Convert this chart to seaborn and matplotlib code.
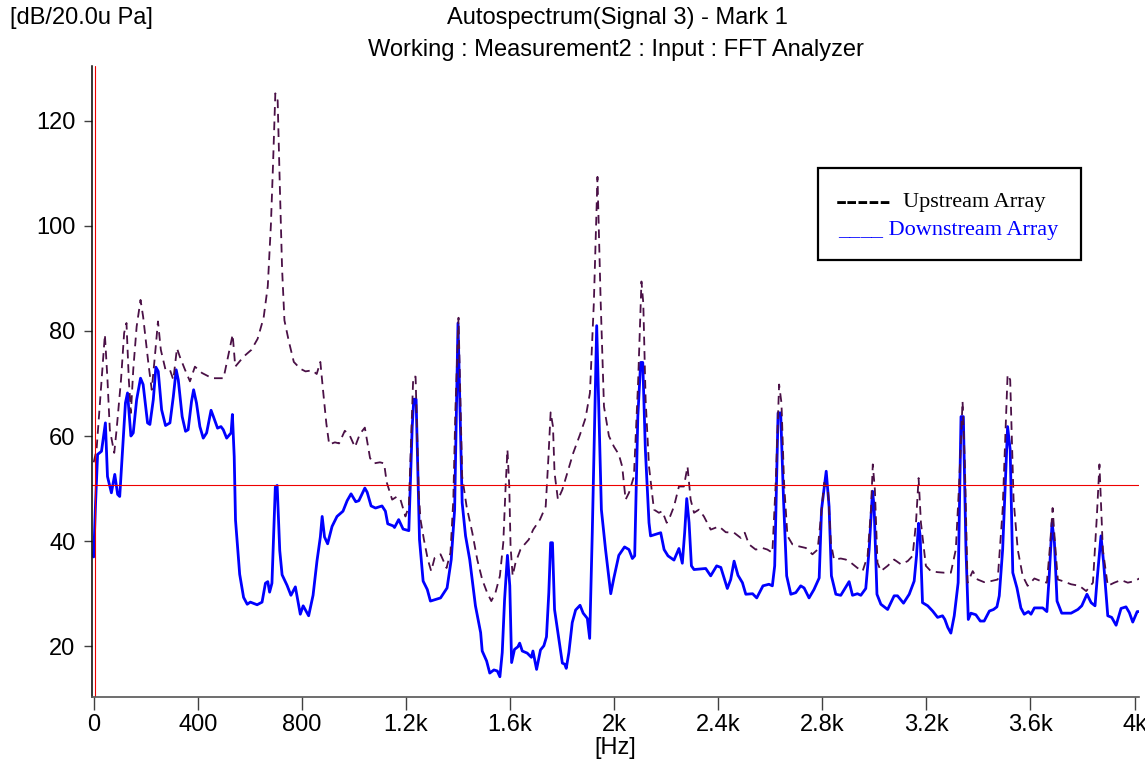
import pandas as pd
import matplotlib.pyplot as plt
import matplotlib.patches as patches
import seaborn as sns

# 频谱数据
freq_down = [0, 7, 15, 30, 45, 53, 68, 81, 92, 100, 122, 130, 143, 152, 165, 180, 190, 207, 216, 229,
             239, 248, 261, 276, 293, 306, 317, 325, 340, 353, 363, 376, 384, 395, 408, 421, 434, 451, 460, 476,
             489, 498, 511, 528, 533, 540, 545, 561, 576, 590, 602, 628, 647, 660, 669, 676, 685, 698, 705, 715,
             724, 743, 758, 775, 794, 805, 826, 843, 858, 871, 878, 887, 899, 916, 935, 958, 974, 989, 1007, 1019,
             1042, 1051, 1066, 1083, 1108, 1121, 1130, 1151, 1156, 1172, 1189, 1211, 1224, 1230, 1239, 1252, 1266, 1282, 1294, 1333,
             1358, 1374, 1387, 1400, 1416, 1429, 1445, 1467, 1487, 1493, 1510, 1522, 1538, 1551, 1561, 1570, 1579, 1590, 1599, 1606,
             1617, 1630, 1637, 1647, 1666, 1682, 1688, 1702, 1717, 1730, 1740, 1749, 1756, 1763, 1771, 1788, 1801, 1810, 1816, 1826,
             1839, 1852, 1869, 1881, 1897, 1906, 1916, 1933, 1951, 1967, 1987, 1999, 2018, 2040, 2057, 2070, 2079, 2091, 2102, 2110,
             2120, 2134, 2140, 2160, 2179, 2192, 2207, 2230, 2249, 2262, 2271, 2279, 2288, 2297, 2307, 2352, 2371, 2394, 2410, 2435,
             2448, 2461, 2476, 2493, 2506, 2532, 2548, 2572, 2595, 2608, 2617, 2630, 2640, 2651, 2663, 2679, 2698, 2717, 2730, 2749,
             2768, 2788, 2797, 2815, 2826, 2835, 2852, 2871, 2887, 2903, 2916, 2935, 2948, 2967, 2980, 2993, 2999, 3010, 3025, 3051,
             3076, 3089, 3112, 3134, 3153, 3162, 3170, 3176, 3185, 3205, 3224, 3243, 3262, 3271, 3282, 3294, 3307, 3322, 3333, 3342,
             3352, 3361, 3371, 3390, 3407, 3422, 3442, 3458, 3471, 3480, 3493, 3512, 3522, 3532, 3548, 3563, 3576, 3592, 3602, 3615,
             3647, 3663, 3672, 3683, 3692, 3702, 3720, 3756, 3782, 3797, 3817, 3833, 3848, 3856, 3871, 3881, 3897, 3912, 3929, 3948,
             3967, 3980, 3993, 4010, 4022]
level_down = [37, 47, 56.5, 57.1, 62.5, 52.3, 49.2, 52.7, 48.9, 48.5, 66.3, 68.2, 60, 60.6, 66.9, 71, 69.8, 62.5, 62.2, 66.9,
              73.1, 72.3, 65, 62, 62.5, 67.5, 72.6, 70.7, 63.7, 60.9, 61.2, 66.6, 68.8, 66.3, 61.8, 59.6, 60.6, 64.9, 63.7, 61.5,
              61.8, 61.2, 59.6, 60.6, 64.1, 56.1, 44, 33.7, 29.3, 28, 28.4, 27.9, 28.4, 32, 32.3, 30.3, 32, 50.3, 50.6, 38.2,
              33.6, 31.6, 29.7, 31.3, 26.1, 27.7, 25.8, 29.7, 36.2, 40.8, 44.7, 40.8, 39.5, 42.8, 44.7, 45.7, 47.7, 49, 47.5, 47.7,
              50.1, 49.3, 46.7, 46.3, 46.7, 45.7, 43.3, 42.9, 42.6, 44.1, 42.3, 42, 61.7, 67, 67, 40.3, 32.4, 30.8, 28.6, 29.2,
              31.1, 36.5, 46, 81.5, 47.3, 41, 36.5, 27.7, 22.6, 19.1, 17.2, 14.9, 15.5, 15.3, 14.2, 18.8, 28.9, 37.3, 31.5, 16.9,
              19.4, 19.9, 20.6, 19.1, 18.7, 17.9, 19.1, 15.6, 19.3, 20.1, 21.8, 30.2, 39.7, 39.7, 27, 21.3, 16.8, 16.6, 15.8, 18.8,
              24.5, 26.9, 27.8, 26.3, 25.3, 21.5, 41.6, 81, 46, 38.4, 30, 33, 37.3, 38.9, 38.4, 36.7, 37.2, 63.7, 74, 74,
              57.4, 43.5, 41, 41.3, 41.6, 38.4, 37.2, 36.4, 38.6, 35.8, 41.6, 48.1, 43.5, 35.3, 34.6, 34.8, 33.4, 35.3, 35, 31,
              32.7, 36.2, 33.5, 32.1, 29.9, 30, 29.2, 31.5, 31.8, 31.5, 35.3, 64.4, 64.4, 47.9, 33.4, 29.9, 30.2, 31.5, 31.1, 29.2,
              30.8, 33, 46, 53.3, 46.6, 33.4, 29.9, 29.7, 31, 32.3, 29.7, 30, 29.7, 31, 38.4, 49.5, 46.6, 29.9, 28, 27,
              29.6, 29.6, 28.2, 29.9, 32.4, 37.2, 43.4, 41, 28.3, 27.7, 26.7, 25.5, 25.8, 25.1, 23.6, 22.5, 25.8, 32.1, 63.7, 63.7,
              38.4, 25.1, 26.3, 26, 24.8, 24.8, 26.7, 27, 27.5, 29.6, 38.4, 61.8, 57.4, 34, 31.1, 27.3, 26.1, 26.6, 26.1, 27.3,
              27.3, 26.6, 33.4, 43.5, 39.7, 28.6, 26.3, 26.3, 27, 27.7, 29.9, 28.3, 27.7, 32.7, 41, 35.9, 25.8, 25.5, 24, 27.2,
              27.5, 26.4, 24.6, 26.6, 26.6]

freq_up = [0, 11, 43, 53, 62, 79, 88, 105, 117, 126, 135, 143, 152, 165, 180, 190, 210, 223, 235, 247,
           258, 276, 293, 306, 320, 331, 351, 370, 389, 416, 455, 499, 519, 534, 544, 576, 606, 630, 653, 669,
           681, 689, 698, 707, 715, 724, 733, 750, 769, 794, 814, 840, 857, 871, 881, 894, 905, 927, 943, 965,
           984, 1004, 1023, 1042, 1062, 1077, 1100, 1116, 1126, 1147, 1166, 1179, 1198, 1211, 1228, 1237, 1249, 1256, 1269, 1284,
           1297, 1310, 1333, 1356, 1371, 1382, 1390, 1402, 1416, 1433, 1455, 1474, 1493, 1512, 1528, 1544, 1561, 1574, 1583, 1590,
           1597, 1602, 1610, 1621, 1640, 1656, 1672, 1689, 1715, 1737, 1747, 1756, 1765, 1771, 1784, 1801, 1820, 1843, 1869, 1890,
           1907, 1922, 1936, 1948, 1961, 1980, 1999, 2018, 2031, 2044, 2057, 2076, 2092, 2105, 2112, 2121, 2134, 2153, 2172, 2185,
           2202, 2215, 2230, 2249, 2268, 2282, 2294, 2307, 2326, 2345, 2371, 2403, 2429, 2461, 2487, 2502, 2518, 2544, 2570, 2589,
           2608, 2621, 2634, 2643, 2653, 2666, 2685, 2711, 2737, 2762, 2782, 2795, 2807, 2822, 2833, 2845, 2871, 2890, 2910, 2935,
           2955, 2974, 2987, 2994, 3002, 3012, 3025, 3051, 3076, 3102, 3128, 3147, 3160, 3170, 3179, 3198, 3217, 3243, 3268, 3294,
           3313, 3326, 3339, 3348, 3358, 3378, 3397, 3422, 3448, 3474, 3493, 3512, 3522, 3535, 3551, 3570, 3589, 3615, 3640, 3663,
           3676, 3685, 3694, 3705, 3724, 3756, 3788, 3814, 3840, 3855, 3865, 3878, 3897, 3922, 3948, 3974, 4000, 4022]
level_up = [55, 57.4, 79.3, 70.7, 61.2, 56.8, 61.2, 70.7, 79.6, 81.5, 70.7, 64.4, 72.6, 80.8, 85.9, 82.7, 73.9, 68.8, 75.1, 81.8,
            76.4, 72.6, 72.6, 70.7, 76.7, 75.1, 72.6, 70.4, 73.2, 72, 71, 71, 75.8, 79.3, 73.2, 75.1, 76.4, 78.5, 82.5, 88.5,
            100.2, 111.4, 125.2, 123.8, 108.1, 91.8, 82, 78, 74.1, 72.8, 72.3, 72.5, 71.8, 74.1, 68.9, 62.4, 58.4, 58.8, 58.6, 61,
            60.1, 57.9, 60.4, 61.6, 55.8, 54.8, 55, 54.8, 51.2, 47.9, 48.5, 47.9, 44.7, 46.6, 71.3, 71.3, 49.2, 44.1, 40.3, 36.5,
            34.3, 36.8, 37.5, 34.9, 37.8, 47.9, 65, 82.5, 52.3, 46.6, 41.6, 36.5, 32.7, 30.2, 28.6, 30.2, 33.4, 39.7, 50.4, 57.4,
            50.4, 39, 33.4, 35.9, 38.4, 39.4, 40.3, 42.2, 44.1, 46.6, 55.5, 64.5, 61.8, 53, 47.9, 49.8, 53, 56.8, 60.3, 63.4,
            68.2, 85.3, 109.3, 86, 65.6, 60, 58, 56.5, 54.2, 47.9, 49.2, 52.3, 70.1, 89.4, 85.3, 66.9, 54.2, 46, 45.4, 45.7,
            43.5, 44.7, 46.6, 50.4, 50.4, 54.2, 47.9, 45.4, 46, 44.7, 42.2, 42.8, 41.7, 41.6, 40.6, 41.6, 39.4, 38.4, 38.7, 38.4,
            37.8, 51.1, 69.8, 66.3, 51.1, 41, 39.4, 39, 38.7, 37.5, 38.4, 44.7, 51.1, 49.8, 39.7, 36.5, 36.7, 36.5, 35.9, 34.9,
            34.3, 37.2, 46, 54.6, 49.8, 35.9, 34.3, 35.3, 36.5, 35.6, 36.2, 37.2, 43.5, 52, 43.5, 35.3, 34.3, 34.1, 34, 34,
            38.4, 51.1, 66.6, 54.2, 32.1, 34.3, 32.7, 32.2, 32.4, 32.7, 46, 71.7, 70.7, 47.9, 38.4, 33.4, 31.5, 32.9, 32.4, 32.1,
            39.7, 46.3, 39.7, 32.7, 32.4, 31.8, 31.5, 30.5, 32.1, 44.7, 54.6, 38.4, 31.5, 32.1, 32.6, 32.1, 32.4, 33]

x_ticks = [0, 400, 800, 1200, 1600, 2000, 2400, 2800, 3200, 3600, 4000]
x_tick_labels = ['0', '400', '800', '1.2k', '1.6k', '2k', '2.4k', '2.8k', '3.2k', '3.6k', '4k']
y_ticks = [20, 40, 60, 80, 100, 120]
cursor_x = 6
cursor_y = 50.7

down_df = pd.DataFrame({'Hz': freq_down, 'dB': level_down})
up_df = pd.DataFrame({'Hz': freq_up, 'dB': level_up})

sns.set_style('white')
plt.rcParams['font.family'] = ['Liberation Sans', 'DejaVu Sans']
plt.rcParams['text.color'] = 'black'
plt.rcParams['xtick.labelcolor'] = 'black'
plt.rcParams['ytick.labelcolor'] = 'black'

W, H = 1145, 762
fig = plt.figure(figsize=(W / 100, H / 100), dpi=100)
ax = fig.add_axes([92 / W, 1 - 697 / H, 1047 / W, 631 / H])

sns.lineplot(data=down_df, x='Hz', y='dB', ax=ax, color='#0000ff', lw=2.0,
             estimator=None, sort=False)
sns.lineplot(data=up_df, x='Hz', y='dB', ax=ax, color='#4a1046', lw=1.3,
             linestyle=(0, (4.8, 3.2)), estimator=None, sort=False)

# 光标线
ax.axhline(cursor_y, color='#ee0000', lw=0.8)
ax.axvline(cursor_x, color='#ee0000', lw=0.8)

ax.set_xlim(-6.5, 4017)
ax.set_ylim(10.35, 130.4)
ax.set_xticks(x_ticks)
ax.set_xticklabels(x_tick_labels)
ax.set_yticks(y_ticks)
ax.set_xlabel('')
ax.set_ylabel('')
ax.tick_params(axis='x', direction='out', length=9, width=1, color='#404040',
               labelsize=17, pad=3, bottom=True, labelcolor='black')
ax.tick_params(axis='y', direction='out', length=6, width=1, color='#404040',
               labelsize=17, pad=6, left=True, labelcolor='black')
for side in ['top', 'right']:
    ax.spines[side].set_visible(False)
ax.spines['left'].set_color('black')
ax.spines['bottom'].set_color('#555555')
ax.spines['left'].set_linewidth(1.1)
ax.spines['bottom'].set_linewidth(1.2)

# 标题与单位
fig.text(10 / W, 1 - 18 / H, '[dB/20.0u Pa]', ha='left', va='center', fontsize=17)
fig.text(617 / W, 1 - 18 / H, 'Autospectrum(Signal 3) - Mark 1', ha='center', va='center', fontsize=17)
fig.text(616 / W, 1 - 50 / H, 'Working : Measurement2 : Input : FFT Analyzer', ha='center', va='center', fontsize=17)
fig.text(615 / W, 1 - 748 / H, '[Hz]', ha='center', va='center', fontsize=17)

# 图例框
serif = ['Liberation Serif', 'DejaVu Serif']
fig.patches.append(patches.Rectangle((818 / W, 1 - 260 / H), 263 / W, 92 / H, transform=fig.transFigure,
                                     fill=False, edgecolor='black', lw=1.6))
fig.text(836 / W, 1 - 203 / H, '-----', ha='left', va='center',
         fontsize=24, fontweight='bold', color='black', family=serif)
fig.text(903 / W, 1 - 202 / H, 'Upstream Array', ha='left', va='center',
         fontsize=16, color='black', family=serif)
fig.text(838 / W, 1 - 231 / H, '____ Downstream Array', ha='left', va='center',
         fontsize=16, color='#0000ff', family=serif)

fig.savefig('out.png', dpi=100)
